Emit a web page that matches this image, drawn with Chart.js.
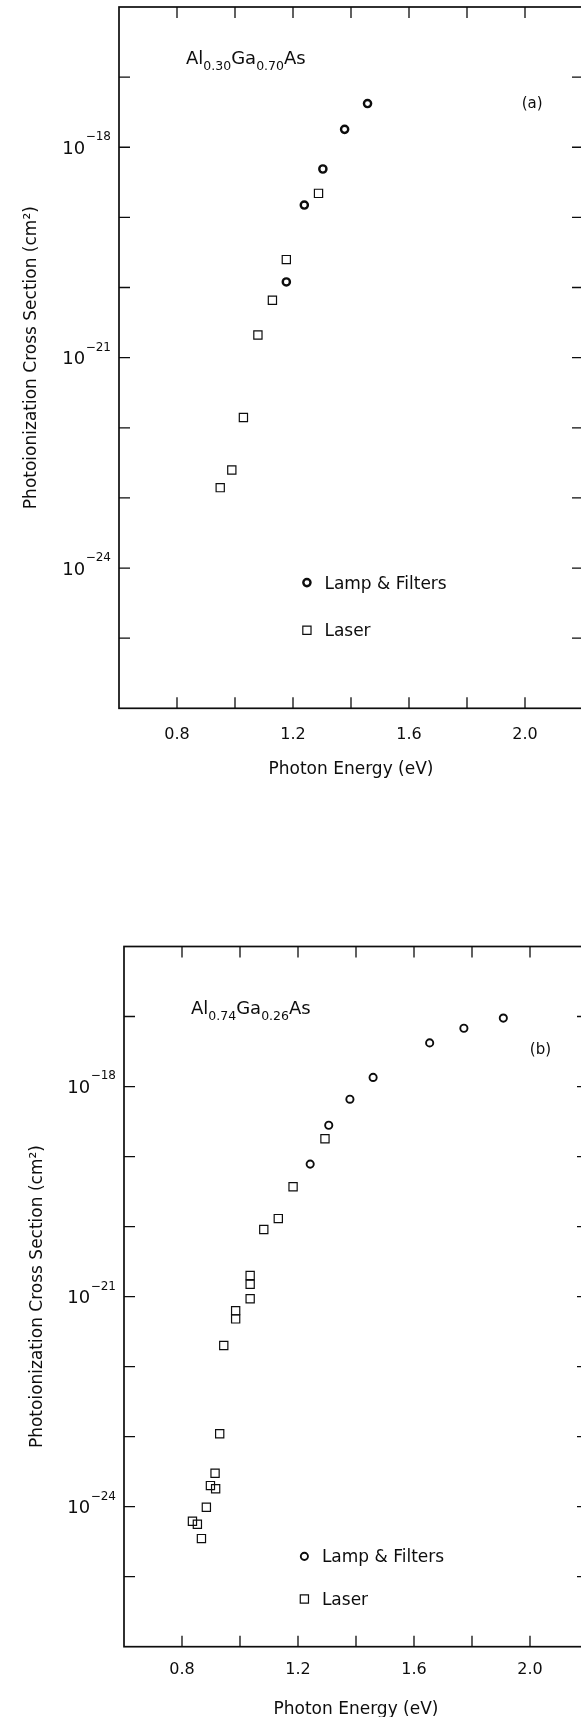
<!DOCTYPE html>
<html>
<head>
<meta charset="utf-8">
<script src="https://cdn.jsdelivr.net/npm/chart.js@4.4.1/dist/chart.umd.min.js"></script>
<style>
  html, body { margin: 0; padding: 0; background: #fff; overflow: hidden; width: 581px; height: 1717px; }
  .panel { position: absolute; left: 0; }
</style>
</head>
<body>
<div class="panel" style="top:0px"><canvas id="graficoA" width="600" height="800"></canvas></div>
<div class="panel" style="top:900px"><canvas id="graficoB" width="600" height="820"></canvas></div>
<script>
// Panel (a) Al0.30Ga0.70As  -- photon energy (eV) / cross section (cm2)
const lampA_E = [1.177, 1.239, 1.303, 1.378, 1.457];
const lampA_S = [1.2e-20, 1.5e-19, 4.9e-19, 1.8e-18, 4.2e-18];
const laserA_E = [0.949, 0.989, 1.029, 1.079, 1.129, 1.177, 1.288];
const laserA_S = [1.4e-23, 2.5e-23, 1.4e-22, 2.1e-21, 6.6e-21, 2.5e-20, 2.2e-19];

// Panel (b) Al0.74Ga0.26As
const lampB_E = [1.242, 1.306, 1.379, 1.459, 1.654, 1.772, 1.908];
const lampB_S = [7.8e-20, 2.8e-19, 6.6e-19, 1.35e-18, 4.2e-18, 6.8e-18, 9.5e-18];
const laserB_E = [0.836, 0.853, 0.867, 0.884, 0.898, 0.916, 0.914, 0.930, 0.944, 0.985, 0.985, 1.035, 1.035, 1.035, 1.082, 1.132, 1.183, 1.293];
const laserB_S = [6.2e-25, 5.6e-25, 3.5e-25, 9.8e-25, 2.0e-24, 1.8e-24, 3.0e-24, 1.1e-23, 2.0e-22, 6.3e-22, 4.8e-22, 9.3e-22, 1.5e-21, 2.0e-21, 9.1e-21, 1.3e-20, 3.7e-20, 1.8e-19];

// axes
const energyTicks = [0.8, 1.0, 1.2, 1.4, 1.6, 1.8, 2.0];
const energyLabels = [0.8, 1.2, 1.6, 2.0];
const decadeTicks = [-25, -24, -23, -22, -21, -20, -19, -18, -17];
const decadeLabels = [-18, -21, -24];

// legend
const legendLabels = ["Lamp & Filters", "Laser"];
const legendA_E = 1.248;
const legendA_S = [6.2e-25, 1.3e-25];
const legendB_E = 1.222;
const legendB_S = [1.95e-25, 4.8e-26];

const FONT = '"DejaVu Sans", "Liberation Sans", sans-serif';
const INK = "#0d0d0d";

// frame, inward ticks, 10^n labels, annotations and legend
const marcoPlugin = {
  id: "marco",
  afterDraw(chart, args, opts) {
    const ctx = chart.ctx;
    const a = chart.chartArea;
    const x = chart.scales.x;
    const y = chart.scales.y;
    ctx.save();
    ctx.strokeStyle = INK;
    ctx.fillStyle = INK;

    // frame
    ctx.lineWidth = 1.7;
    ctx.strokeRect(a.left, a.top, a.right - a.left, a.bottom - a.top);

    // ticks
    ctx.lineWidth = 1.3;
    ctx.beginPath();
    energyTicks.forEach((v) => {
      const px = x.getPixelForValue(v);
      ctx.moveTo(px, a.bottom); ctx.lineTo(px, a.bottom - 11);
      ctx.moveTo(px, a.top); ctx.lineTo(px, a.top + 11);
    });
    decadeTicks.forEach((e) => {
      const py = y.getPixelForValue(Math.pow(10, e));
      ctx.moveTo(a.left, py); ctx.lineTo(a.left + 11, py);
      ctx.moveTo(a.right, py); ctx.lineTo(a.right - 11, py);
    });
    ctx.stroke();

    // 10^n labels
    ctx.textAlign = "right";
    ctx.textBaseline = "alphabetic";
    decadeLabels.forEach((e) => {
      const py = y.getPixelForValue(Math.pow(10, e));
      const sup = "\u2212" + Math.abs(e);
      const xr = a.left - 8;
      ctx.font = "12px " + FONT;
      const w = ctx.measureText(sup).width;
      ctx.fillText(sup, xr, py - 6.6 - 0.5);
      ctx.font = "18px " + FONT;
      ctx.fillText("10", xr - w - 0.5, py + 6.6);
    });

    // composition label with subscripts
    ctx.textAlign = "left";
    let cx = a.left + opts.compX;
    const cy = a.top + opts.compY;
    opts.comp.forEach((part, i) => {
      const isSub = i % 2 === 1;
      ctx.font = (isSub ? "12.5px " : "18px ") + FONT;
      ctx.fillText(part, cx, cy + (isSub ? 6 : 0));
      cx += ctx.measureText(part).width;
    });

    // panel letter
    ctx.font = "15px " + FONT;
    ctx.fillText(opts.letter, a.left + opts.letterX, a.top + opts.letterY);

    // legend
    ctx.font = "17px " + FONT;
    opts.legendS.forEach((s, i) => {
      const px = x.getPixelForValue(opts.legendE);
      const py = y.getPixelForValue(s);
      ctx.beginPath();
      if (i === 0) {
        ctx.lineWidth = opts.ring;
        ctx.arc(px, py, 3.6, 0, Math.PI * 2);
      } else {
        ctx.lineWidth = 1.2;
        ctx.rect(px - 4.1, py - 4.1, 8.2, 8.2);
      }
      ctx.stroke();
      ctx.fillText(legendLabels[i], px + 17.5, py + 6);
    });
    ctx.restore();
  },
};

function puntos(xs, ys) {
  return xs.map((v, i) => ({ x: v, y: ys[i] }));
}

function crearPanel(id, p) {
  const ctx = document.getElementById(id).getContext("2d");
  return new Chart(ctx, {
    type: "scatter",
    data: {
      datasets: [
        {
          label: legendLabels[0],
          data: puntos(p.lampE, p.lampS),
          pointStyle: "circle",
          pointRadius: 3.6,
          borderWidth: p.ring,
          borderColor: INK,
          backgroundColor: "rgba(0,0,0,0)",
        },
        {
          label: legendLabels[1],
          data: puntos(p.laserE, p.laserS),
          pointStyle: "rect",
          pointRadius: 5.8,
          borderWidth: 1.2,
          borderColor: INK,
          backgroundColor: "rgba(0,0,0,0)",
        },
      ],
    },
    options: {
      responsive: false,
      animation: false,
      events: [],
      devicePixelRatio: 1,
      layout: { padding: { left: 0, top: p.top, right: p.right, bottom: 0 } },
      plugins: {
        legend: { display: false },
        tooltip: { enabled: false },
        marco: {
          comp: p.comp, compX: 67, compY: p.compY,
          letter: p.letter, letterX: p.letterX, letterY: p.letterY,
          legendE: p.legendE, legendS: p.legendS, ring: p.ring,
        },
      },
      scales: {
        x: {
          type: "linear",
          min: 0.6,
          max: 2.2,
          afterBuildTicks: (s) => { s.ticks = energyTicks.map((v) => ({ value: v })); },
          afterFit: (s) => { s.height = p.xHeight; },
          grid: { display: false, drawTicks: false },
          border: { display: false },
          ticks: {
            autoSkip: false,
            maxRotation: 0,
            padding: p.tickPad,
            color: INK,
            font: { family: FONT, size: 16 },
            callback: (v) => energyLabels.some((l) => Math.abs(l - v) < 1e-6) ? v.toFixed(1) : "",
          },
          title: {
            display: true,
            text: "Photon Energy (eV)",
            color: INK,
            font: { family: FONT, size: 17 },
            padding: { top: 0, bottom: p.titlePad },
          },
        },
        y: {
          type: "logarithmic",
          min: 1e-26,
          max: 1e-16,
          afterBuildTicks: (s) => { s.ticks = decadeTicks.map((e) => ({ value: Math.pow(10, e) })); },
          afterFit: (s) => { s.width = p.yWidth; },
          grid: { display: false, drawTicks: false },
          border: { display: false },
          ticks: { display: false },
          title: {
            display: true,
            text: "Photoionization Cross Section (cm\u00B2)",
            color: INK,
            font: { family: FONT, size: 17 },
            padding: { top: p.yTitlePad, bottom: 0 },
          },
        },
      },
    },
    plugins: [marcoPlugin],
  });
}

window.onload = function () {
  crearPanel("graficoA", {
    lampE: lampA_E, lampS: lampA_S, laserE: laserA_E, laserS: laserA_S,
    top: 5, right: 17, yWidth: 119, xHeight: 91.7, tickPad: 17, titlePad: 20.5, yTitlePad: 21,
    comp: ["Al", "0.30", "Ga", "0.70", "As"], compY: 56.7,
    letter: "(a)", letterX: 402.7, letterY: 101,
    legendE: legendA_E, legendS: legendA_S, ring: 2.4,
  });
  crearPanel("graficoB", {
    lampE: lampB_E, lampS: lampB_S, laserE: laserB_E, laserS: laserB_S,
    top: 46.5, right: 12, yWidth: 124, xHeight: 73.3, tickPad: 14, titlePad: 0, yTitlePad: 27,
    comp: ["Al", "0.74", "Ga", "0.26", "As"], compY: 67.6,
    letter: "(b)", letterX: 405.8, letterY: 107.8,
    legendE: legendB_E, legendS: legendB_S, ring: 1.9,
  });
};
</script>
</body>
</html>
